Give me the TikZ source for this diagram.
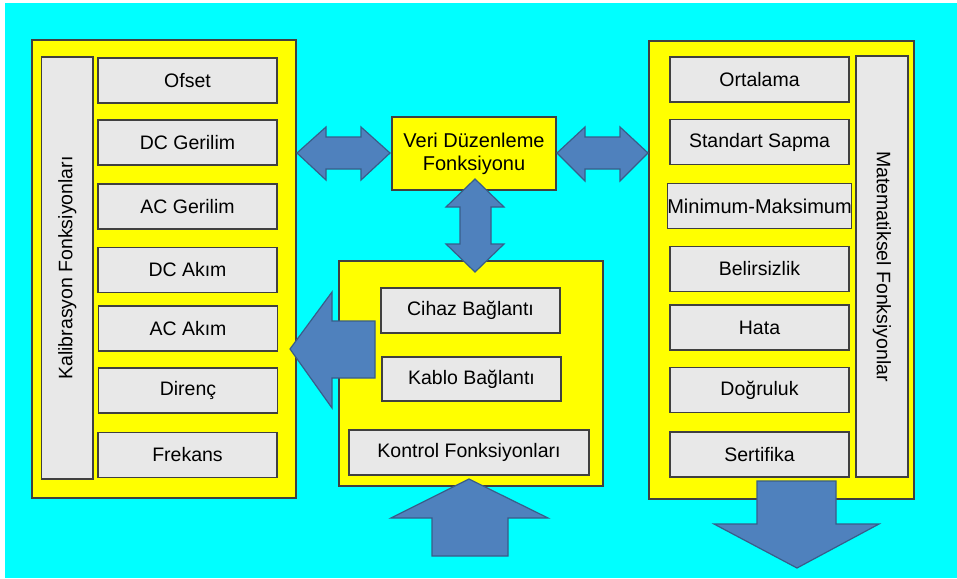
\documentclass[tikz,border=0pt]{standalone}
\usepackage{fontspec}
\setmainfont{Liberation Sans}
\definecolor{bgcyan}{HTML}{00FFFF}
\definecolor{panelyellow}{HTML}{FFFF00}
\definecolor{itemgray}{HTML}{E8E8E8}
\definecolor{edgegray}{HTML}{404040}
\definecolor{arrowblue}{HTML}{4F81BD}
\definecolor{arrowedge}{HTML}{385D8A}
\tikzset{
  panel/.style={draw=edgegray, fill=panelyellow, line width=1.2pt, inner sep=0pt},
  item/.style={draw=edgegray, fill=itemgray, line width=1.1pt, inner sep=0pt,
    minimum width=179pt, minimum height=45pt, font=\fontsize{19.5}{22}\selectfont, text=black},
  vbox/.style={draw=edgegray, fill=itemgray, line width=1.1pt, inner sep=0pt},
  vtext/.style={font=\fontsize{19.5}{22}\selectfont, text=black, inner sep=0pt},
  blockarrow/.style={fill=arrowblue, draw=arrowedge, line width=1.2pt, line join=miter},
}
\begin{document}
\begin{tikzpicture}[x=1pt, y=-1pt]
\useasboundingbox (0,0) rectangle (957,578);
\fill[white] (0,0) rectangle (957,578);
\fill[bgcyan] (5,3) rectangle (957,578);

% left panel
\node[panel, minimum width=264pt, minimum height=458pt] (leftpanel) at (164,269) {};
\node[vbox, minimum width=51.5pt, minimum height=422pt] (kalib) at (67.25,268) {};
\node[vtext, rotate=90] (kalibtext) at (kalib.center) {Kalibrasyon Fonksiyonları};
\node[item] (ofset) at (187.5,80.5) {Ofset};
\node[item] (dcger) at (187.5,142.5) {DC Gerilim};
\node[item] (acger) at (187.5,206.5) {AC Gerilim};
\node[item] (dcakim) at (187.5,270) {DC Akım};
\node[item] (acakim) at (188,328.5) {AC Akım};
\node[item] (direnc) at (188,390.5) {Direnç};
\node[item] (frekans) at (187.5,455) {Frekans};

% right panel
\node[panel, minimum width=265pt, minimum height=458pt] (rightpanel) at (781.5,270) {};
\node[vbox, minimum width=52pt, minimum height=421pt] (matem) at (882,266.5) {};
\node[vtext, rotate=-90] (matemtext) at (matem.center) {Matematiksel Fonksiyonlar};
\node[item] (ortalama) at (759.5,79.5) {Ortalama};
\node[item] (stdsapma) at (759.5,142) {Standart Sapma};
\node[item, font=\fontsize{20}{22}\selectfont] (minmax) at (759.5,206) {Minimum-Maksimum};
\node[item] (belirsiz) at (759.5,269) {Belirsizlik};
\node[item] (hata) at (759.5,327.5) {Hata};
\node[item] (dogruluk) at (759.5,390) {Doğruluk};
\node[item] (sertifika) at (759.5,454.5) {Sertifika};

% centre
\node[panel, minimum width=164pt, minimum height=73pt, align=center,
  font=\fontsize{20}{23}\selectfont] (veri) at (474,153.5) {Veri Düzenleme\\Fonksiyonu};
\node[panel, minimum width=264pt, minimum height=225pt] (kontrolpanel) at (471,373.5) {};
\node[item] (cihaz) at (470.5,310.5) {Cihaz Bağlantı};
\node[item, minimum height=44pt] (kablo) at (471.5,379) {Kablo Bağlantı};
\node[item, minimum width=240pt] (kontrol) at (469,452.5) {Kontrol Fonksiyonları};

% block arrows
\draw[blockarrow] (297,153) -- (326,127) -- (326,137) -- (361,137) -- (361,127) -- (390,153)
  -- (361,180) -- (361,169) -- (326,169) -- (326,180) -- cycle;
\draw[blockarrow] (557,153) -- (585,127) -- (585,137) -- (620,137) -- (620,127) -- (648,153)
  -- (620,181) -- (620,169) -- (585,169) -- (585,181) -- cycle;
\draw[blockarrow] (475,179) -- (504,207) -- (491,207) -- (491,244) -- (504,244) -- (475,272)
  -- (446,244) -- (460,244) -- (460,207) -- (446,207) -- cycle;
\draw[blockarrow] (290,349) -- (332,292) -- (332,321) -- (375,321) -- (375,378) -- (332,378)
  -- (332,408) -- cycle;
\draw[blockarrow] (469,479) -- (548,518) -- (508,518) -- (508,556) -- (432,556) -- (432,518)
  -- (391,518) -- cycle;
\draw[blockarrow] (757,481) -- (836,481) -- (836,524) -- (879,524) -- (797,568) -- (714,524)
  -- (757,524) -- cycle;
\end{tikzpicture}
\end{document}
